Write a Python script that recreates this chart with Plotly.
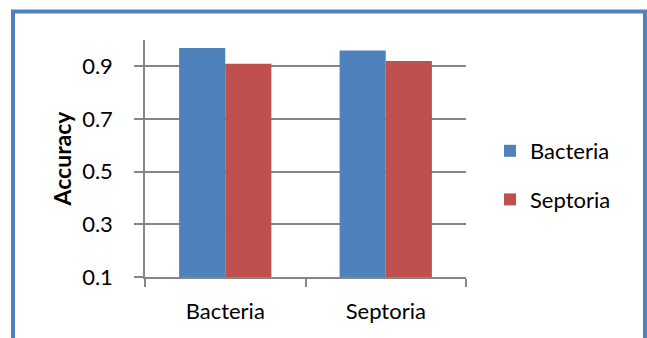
import plotly.graph_objects as go

categories = ["Bacteria", "Septoria"]
series_names = ["Bacteria", "Septoria"]
bacteria_series = [0.97, 0.96]
septoria_series = [0.91, 0.92]
y_ticks = [0.1, 0.3, 0.5, 0.7, 0.9]

W, H = 647, 338
L, R, T, B = 145, 181, 40, 61
pw, ph = W - L - R, H - T - B

def px_x(x):
    return (x - L) / pw

def px_y(y):
    return (H - B - y) / ph

FONT = "Lato"
fig = go.Figure()
fig.add_trace(go.Bar(x=categories, y=bacteria_series, name=series_names[0],
                     marker=dict(color="#4F81BD", line=dict(width=0)),
                     legendgroup="a"))
fig.add_trace(go.Bar(x=categories, y=septoria_series, name=series_names[1],
                     marker=dict(color="#C0504D", line=dict(width=0)),
                     legendgroup="b"))

fig.update_layout(
    width=W, height=H,
    margin=dict(l=L, r=R, t=T, b=B, pad=0),
    paper_bgcolor="white", plot_bgcolor="white",
    barmode="group", bargap=0.425, bargroupgap=0,
    font=dict(family=FONT, size=22, color="black"),
    showlegend=True,
    legend=dict(x=px_x(490), y=px_y(130), xanchor="left", yanchor="top",
                font=dict(size=22), tracegroupgap=17,
                traceorder="grouped", bgcolor="rgba(0,0,0,0)"),
    xaxis=dict(type="category", showline=True, linecolor="#868686", linewidth=1.5,
               ticks="outside", tickson="boundaries", ticklen=8, tickcolor="#868686",
               tickwidth=1.5, showgrid=False, tickfont=dict(size=22),
               ticklabelstandoff=14),
    yaxis=dict(range=[0.1, 1.0], tickvals=y_ticks, ticktext=[f"{v:.1f}" for v in y_ticks],
               showline=True, linecolor="#868686", linewidth=1.5,
               ticks="outside", ticklen=9, tickcolor="#868686", tickwidth=1.5,
               showgrid=True, gridcolor="#868686", gridwidth=1.5, zeroline=False,
               ticklabelstandoff=17,
               title=dict(text="<b>Accuracy</b>", font=dict(size=23), standoff=4),
               tickfont=dict(size=22)),
    shapes=[dict(type="rect", xref="paper", yref="paper",
                 x0=px_x(13), x1=px_x(645), y0=px_y(350), y1=px_y(11.5),
                 line=dict(color="#4F81BD", width=4), fillcolor="rgba(0,0,0,0)",
                 layer="above")],
)

fig.write_html("out.html")
